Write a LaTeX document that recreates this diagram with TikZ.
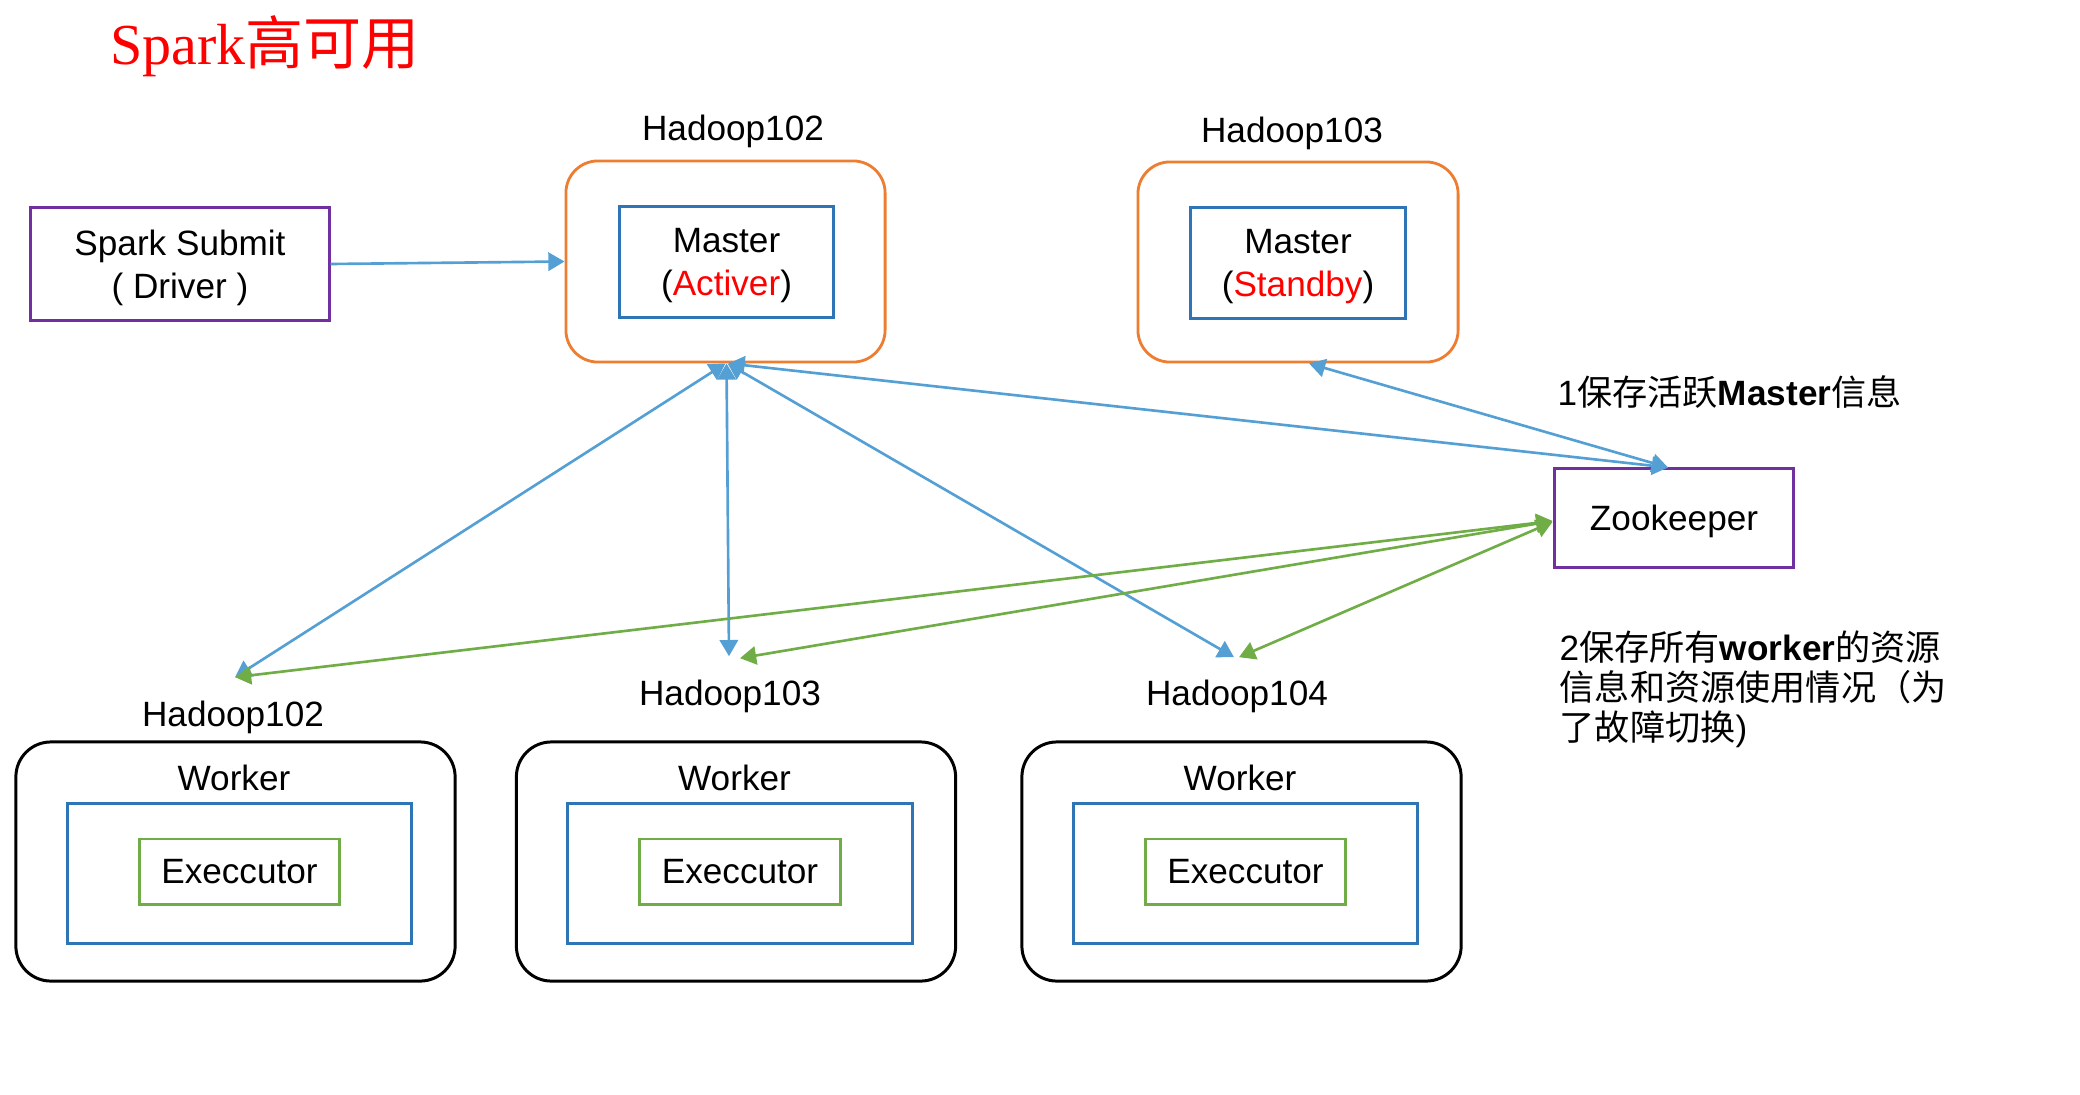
\documentclass[tikz,border=0pt]{standalone}
\usepackage{fontspec}
\setmainfont{Liberation Sans}
\newfontfamily\cjk{Noto Sans CJK SC}
\newfontfamily\titleserif{Liberation Serif}
\usetikzlibrary{positioning,calc,arrows.meta}
\definecolor{linkblue}{RGB}{84,160,213}
\definecolor{boxblue}{RGB}{46,117,182}
\definecolor{hostorange}{RGB}{237,125,49}
\definecolor{zkpurple}{RGB}{112,48,160}
\definecolor{exegreen}{RGB}{112,173,71}
\definecolor{ssred}{RGB}{255,0,0}
\tikzset{
every node/.style={font=\fontsize{10}{12.3}\selectfont},
host/.style={draw=hostorange,line width=0.8pt,rounded corners=0.32cm,minimum width=3.19cm,minimum height=2.01cm},
master/.style={draw=boxblue,line width=0.85pt,minimum width=2.14cm,minimum height=1.1cm,align=center,text depth=0pt},
worker/.style={draw=black,line width=0.85pt,rounded corners=0.35cm,minimum width=4.39cm,minimum height=2.39cm},
pool/.style={draw=boxblue,line width=0.85pt,minimum width=3.44cm,minimum height=1.39cm},
exe/.style={draw=exegreen,line width=0.85pt,minimum width=2cm,minimum height=0.65cm},
client/.style={draw=zkpurple,line width=0.85pt,align=center,text depth=0pt},
tip/.style={Triangle[length=4.6pt,width=5.2pt]},
link/.style={draw=linkblue,line width=0.75pt,{Triangle[length=4.6pt,width=5.2pt]}-{Triangle[length=4.6pt,width=5.2pt]}},
sync/.style={draw=exegreen,line width=0.75pt,{Triangle[length=4.6pt,width=5.2pt]}-{Triangle[length=4.6pt,width=5.2pt]}}
}
\begin{document}
\begin{tikzpicture}[x=0.01cm,y=-0.01cm]
    \useasboundingbox (0,0) rectangle (2080,1094);
    \node[text=ssred,font=\fontsize{16.5}{18}\selectfont] (title) at (265,46) {\titleserif Spark{\cjk 高可用}};
    % masters
    \node[client,minimum width=2.98cm,minimum height=1.12cm] (submit) at (180,264) {Spark Submit\\( Driver )};
    \node[host] (h2box) at (725.5,261.5) {};
    \node[master] (m2) at (726.5,262) {Master\\(\textcolor{ssred}{Activer})};
    \node (h2lbl) at (733,131) {Hadoop102};
    \node[host,minimum width=3.2cm,minimum height=2cm] (h3box) at (1298,262) {};
    \node[master] (m3) at (1298,263) {Master\\(\textcolor{ssred}{Standby})};
    \node (h3lbl) at (1292,133) {Hadoop103};
    \node[client,minimum width=2.38cm,minimum height=0.98cm] (zk) at (1674,518) {Zookeeper};
    \node[anchor=west,inner sep=0] (note1) at (1557,392) {1{\cjk 保存活跃}\textbf{Master}{\cjk 信息}};
    \node[anchor=north west,inner sep=0,align=left,font=\fontsize{10}{11.4}\selectfont] (note2) at (1559,630)
        {2{\cjk 保存所有}\textbf{worker}{\cjk 的资源}\\{\cjk 信息和资源使用情况（为}\\{\cjk 了故障切换})};
    % workers
    \foreach \i/\x in {2/235.5,3/736,4/1241.5}{
        \node[worker] (w\i) at (\x,861.5) {};
        \node (wl\i) at (\x-1.5,778) {Worker};
        \node[pool] (p\i) at (\x+4,873.5) {};
        \node[exe] (e\i) at (\x+4,871.5) {Execcutor};
    }
    \node (n2) at (233,717) {Hadoop102};
    \node (n3) at (730,696) {Hadoop103};
    \node (n4) at (1237,696) {Hadoop104};
    % connectors
    \draw[draw=linkblue,line width=0.75pt,-{Triangle[length=4.6pt,width=5.2pt]}] (submit.east) -- (h2box.west);
    \draw[link] ($(h2box.south)+(0,0)$) -- ($(n2.north)+(2,-11)$);
    \draw[link] ($(h2box.south)+(1,0)$) -- ($(n3.north)+(-1,-11)$);
    \draw[link] ($(h2box.south)+(2,0)$) -- ($(n4.north)+(-3,-10)$);
    \draw[link] ($(h2box.south)+(3,0)$) -- ($(zk.north)+(-6,0)$);
    \draw[link] ($(h3box.south)+(11,0)$) -- ($(zk.north)+(-6,0)$);
    \draw[sync] ($(zk.west)+(-1,3)$) -- ($(n2.north)+(2,-11)$);
    \draw[sync] ($(zk.west)+(-1,3)$) -- ($(n3.north)+(10,-9)$);
    \draw[sync] ($(zk.west)+(-1,4)$) -- ($(n4.north)+(2,-10)$);
\end{tikzpicture}
\end{document}
